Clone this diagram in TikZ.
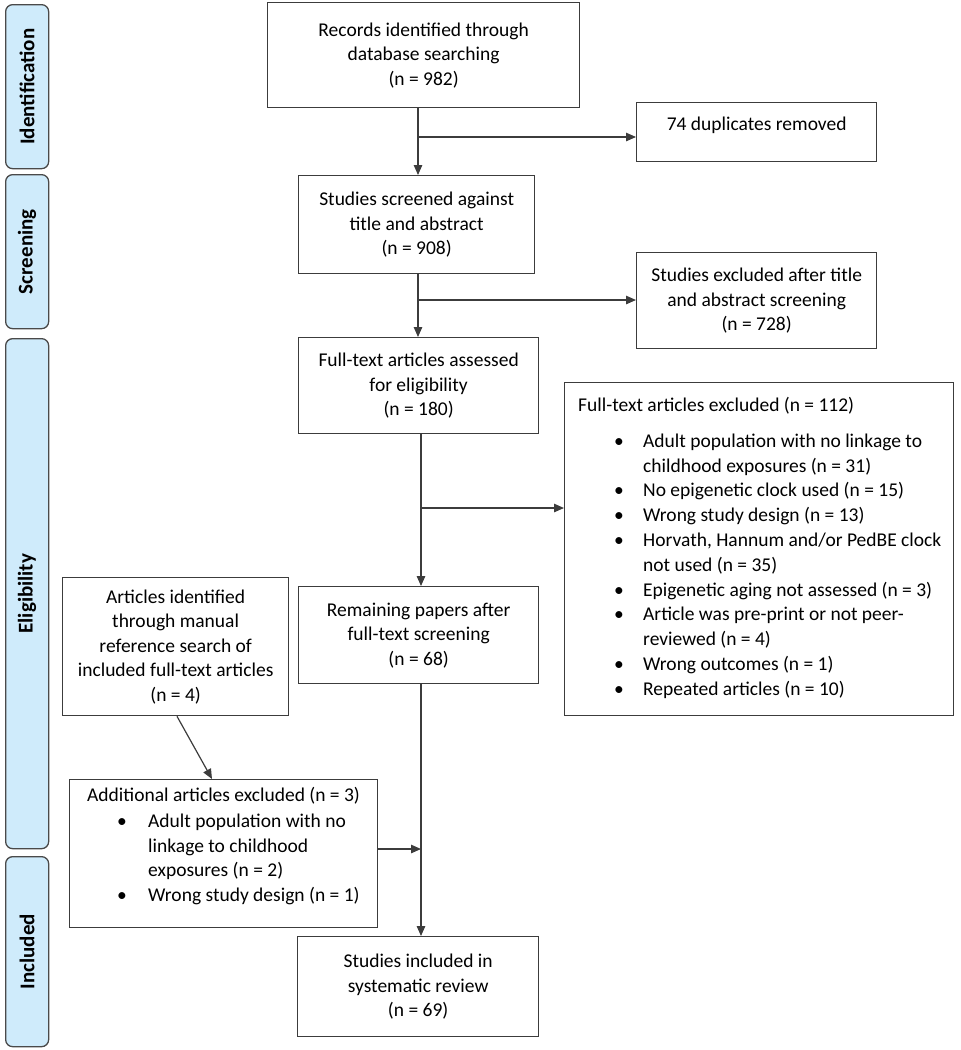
\documentclass[tikz,border=0pt]{standalone}
\usepackage{fontspec}
\setmainfont{Carlito}
\usetikzlibrary{arrows.meta,calc}
\definecolor{barfill}{HTML}{CFEBFB}
\definecolor{barline}{HTML}{4A4A4A}
\definecolor{linec}{HTML}{3C3C3C}
\newcommand{\xbul}[1]{\hspace*{50pt}\makebox[29pt][l]{\textbullet}#1}
\newcommand{\xcont}[1]{\hspace*{79pt}#1}
\newcommand{\abul}[1]{\hspace*{48pt}\makebox[31pt][l]{\textbullet}#1}
\newcommand{\acont}[1]{\hspace*{79pt}#1}
\begin{document}
\begin{tikzpicture}[x=1pt,y=-1pt,
  every node/.style={font=\fontsize{19.5}{24.5}\selectfont, text=black},
  box/.style={draw=linec, line width=1.3pt, fill=white, inner sep=0pt, align=center, anchor=north west},
  bar/.style={draw=barline, line width=1.3pt, fill=barfill, rounded corners=7pt, inner sep=0pt, anchor=north west, minimum width=43pt},
  barlabel/.style={rotate=90, font=\fontsize{21}{23}\selectfont\bfseries},
  arr/.style={draw=linec, line width=1.2pt, -{Triangle[length=10pt,width=8.5pt]}},
  listtext/.style={anchor=north west, align=left, inner sep=0pt, font=\fontsize{19.5}{24.8}\selectfont}]
\useasboundingbox (0,0) rectangle (961,1050);

% side bars
\node[bar, minimum height=164pt] (idb) at (5,4) {};
\node[barlabel] (idl) at (idb.center) {Identification};
\node[bar, minimum height=154pt] (scb) at (5,174) {};
\node[barlabel] (scl) at (scb.center) {Screening};
\node[bar, minimum height=510pt] (elb) at (5,338) {};
\node[barlabel] (ell) at (elb.center) {Eligibility};
\node[bar, minimum height=190pt] (inb) at (5,856) {};
\node[barlabel] (inl) at (inb.center) {Included};

% boxes
\node[box, minimum width=312pt, minimum height=105pt] (rec) at (267,2)
  {Records identified through\\database searching\\(n = 982)};
\node[box, minimum width=240pt, minimum height=59pt] (dup) at (636,102) {};
\node[inner sep=0pt] (dupt) at ($(dup.north)+(0,23)$) {74 duplicates removed};
\node[box, minimum width=236pt, minimum height=98pt] (scr) at (298,175)
  {Studies screened against\\title and abstract\\(n = 908)};
\node[box, minimum width=240pt, minimum height=96pt] (exc1) at (636,252)
  {Studies excluded after title\\and abstract screening\\(n = 728)};
\node[box, minimum width=240pt, minimum height=96pt] (fta) at (298,337)
  {Full-text articles assessed\\for eligibility\\(n = 180)};
\node[box, minimum width=389pt, minimum height=333pt] (exc2) at (564,382) {};
\node[listtext] (exc2t) at (564,397)
  {\hspace*{14pt}Full-text articles excluded (n = 112)\\[11pt]
   \xbul{Adult population with no linkage to}\\
   \xcont{childhood exposures (n = 31)}\\
   \xbul{No epigenetic clock used (n = 15)}\\
   \xbul{Wrong study design (n = 13)}\\
   \xbul{Horvath, Hannum and/or PedBE clock}\\
   \xcont{not used (n = 35)}\\
   \xbul{Epigenetic aging not assessed (n = 3)}\\
   \xbul{Article was pre-print or not peer-}\\
   \xcont{reviewed (n = 4)}\\
   \xbul{Wrong outcomes (n = 1)}\\
   \xbul{Repeated articles (n = 10)}};
\node[box, minimum width=226pt, minimum height=138pt] (ami) at (62,577)
  {Articles identified\\through manual\\reference search of\\included full-text articles\\(n = 4)};
\node[box, minimum width=240pt, minimum height=97pt] (rem) at (298,586)
  {Remaining papers after\\full-text screening\\(n = 68)};
\node[box, minimum width=308pt, minimum height=148pt] (add) at (69,779) {};
\node[listtext] (addt) at (69,787)
  {\hspace*{18pt}Additional articles excluded (n = 3)\\[1pt]
   \abul{Adult population with no}\\
   \acont{linkage to childhood}\\
   \acont{exposures (n = 2)}\\
   \abul{Wrong study design (n = 1)}};
\node[box, minimum width=241pt, minimum height=100pt] (inc) at (297,936)
  {Studies included in\\systematic review\\(n = 69)};

% connectors
\coordinate (sA) at (418,0);
\coordinate (sB) at (421,0);
\coordinate (b1) at (418,137);
\coordinate (b2) at (418,300);
\coordinate (b3) at (421,508);
\coordinate (b4) at (421,849);
\draw[arr] (rec.south -| sA) -- (scr.north -| sA);
\draw[arr] (b1) -- (b1 -| dup.west);
\draw[arr] (scr.south -| sA) -- (fta.north -| sA);
\draw[arr] (b2) -- (b2 -| exc1.west);
\draw[arr] (fta.south -| sB) -- (rem.north -| sB);
\draw[arr] (b3) -- (b3 -| exc2.west);
\draw[arr] (rem.south -| sB) -- (inc.north -| sB);
\draw[arr] (b4 -| add.east) -- (b4);
\draw[arr] ($(ami.south west)+(115,0)$) -- ($(add.north west)+(143,0)$);
\end{tikzpicture}
\end{document}
